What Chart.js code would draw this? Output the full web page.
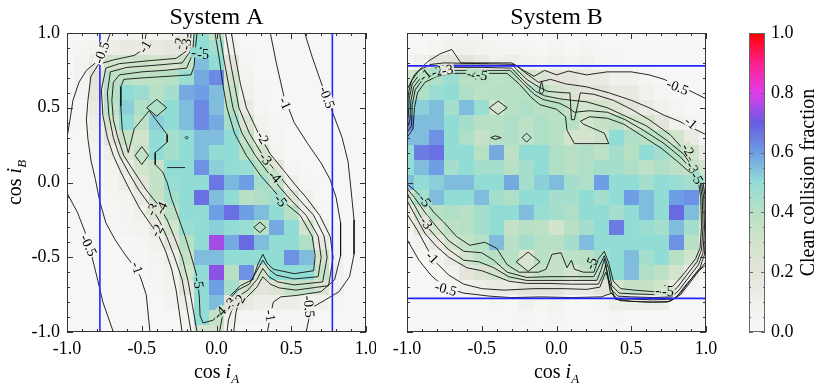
<!DOCTYPE html>
<html>
<head>
<meta charset="utf-8">
<script src="https://cdn.jsdelivr.net/npm/chart.js@4.4.1/dist/chart.umd.min.js"></script>
<style>
  body { margin: 0; background: #fff; width: 830px; height: 386px; overflow: hidden; position: relative; }
  canvas { position: absolute; top: 0; }
</style>
</head>
<body>
<canvas id="cA" width="376" height="386" style="left:0;width:376px;height:386px"></canvas>
<canvas id="cB" width="344" height="386" style="left:376px;width:344px;height:386px"></canvas>
<canvas id="cC" width="110" height="386" style="left:720px;width:110px;height:386px"></canvas>
<script>
'use strict';

// cell centres (cos i_A across, cos i_B down from the top)
var xCenters = [-1.0,-0.9,-0.8,-0.7,-0.6,-0.5,-0.4,-0.3,-0.2,-0.1,0.0,0.1,0.2,0.3,0.4,0.5,0.6,0.7,0.8,0.9,1.0];
var yCenters = [1.0,0.9,0.8,0.7,0.6,0.5,0.4,0.3,0.2,0.1,0.0,-0.1,-0.2,-0.3,-0.4,-0.5,-0.6,-0.7,-0.8,-0.9,-1.0];
var cellHalf = 0.05;

var tickLabels = [-1.0, -0.5, 0.0, 0.5, 1.0];
var barTicks = [0.0, 0.2, 0.4, 0.6, 0.8, 1.0];

// clean collision fraction, System A
var gridA = [
  [.02,.02,.03,.05,.08,.08,.08,.1,.12,.48,.35,.05,.02,.02,.02,.02,.02,.02,.02,.02,.02],
  [.02,.05,.08,.12,.15,.15,.15,.18,.2,.5,.45,.1,.03,.02,.02,.02,.02,.02,.02,.02,.02],
  [.02,.08,.15,.3,.3,.32,.3,.28,.35,.55,.5,.2,.05,.02,.02,.02,.02,.02,.02,.02,.02],
  [.02,.08,.2,.38,.38,.36,.38,.4,.48,.58,.63,.3,.08,.03,.02,.02,.02,.02,.02,.02,.02],
  [.02,.06,.18,.4,.5,.47,.4,.45,.58,.6,.55,.35,.1,.04,.02,.02,.02,.02,.02,.02,.02],
  [.02,.04,.15,.38,.52,.42,.42,.5,.55,.63,.55,.4,.15,.05,.02,.02,.02,.02,.02,.02,.02],
  [.02,.04,.12,.3,.5,.38,.52,.5,.55,.63,.58,.45,.25,.08,.04,.02,.02,.02,.02,.02,.02],
  [.02,.03,.1,.2,.35,.3,.5,.45,.5,.55,.55,.5,.35,.12,.05,.02,.02,.02,.02,.02,.02],
  [.02,.03,.06,.12,.25,.35,.5,.45,.5,.55,.5,.5,.4,.3,.08,.03,.02,.02,.02,.02,.02],
  [.02,.02,.04,.08,.15,.3,.35,.5,.5,.62,.52,.5,.48,.4,.2,.05,.02,.02,.02,.02,.02],
  [.02,.02,.03,.06,.12,.22,.35,.48,.5,.5,.66,.56,.6,.45,.35,.12,.04,.02,.02,.02,.02],
  [.02,.02,.02,.05,.08,.15,.35,.45,.5,.67,.55,.5,.4,.42,.45,.25,.1,.03,.02,.02,.02],
  [.02,.02,.02,.04,.06,.1,.25,.38,.5,.5,.6,.67,.6,.55,.5,.4,.15,.04,.02,.02,.02],
  [.02,.02,.02,.02,.05,.08,.15,.3,.48,.5,.52,.5,.48,.4,.58,.5,.3,.1,.03,.02,.02],
  [.02,.02,.02,.02,.02,.05,.1,.2,.4,.5,.75,.58,.68,.55,.5,.5,.42,.15,.04,.02,.02],
  [.02,.02,.02,.02,.02,.04,.06,.12,.35,.55,.55,.5,.5,.5,.5,.62,.55,.3,.08,.02,.02],
  [.02,.02,.02,.02,.02,.02,.05,.1,.3,.5,.73,.4,.62,.3,.5,.5,.5,.35,.1,.02,.02],
  [.02,.02,.02,.02,.02,.02,.04,.08,.2,.5,.6,.45,.3,.2,.25,.35,.35,.25,.1,.02,.02],
  [.02,.02,.02,.02,.02,.02,.02,.06,.12,.5,.55,.2,.15,.12,.12,.12,.1,.1,.05,.02,.02],
  [.02,.02,.02,.02,.02,.02,.02,.02,.08,.5,.35,.1,.05,.05,.04,.04,.02,.02,.02,.02,.02],
  [.02,.02,.02,.02,.02,.02,.02,.02,.05,.3,.3,.06,.02,.02,.02,.02,.02,.02,.02,.02,.02]
];

// clean collision fraction, System B
var gridB = [
  [.02,.02,.03,.05,.06,.05,.03,.03,.03,.03,.03,.03,.03,.02,.02,.02,.02,.02,.02,.02,.02],
  [.02,.03,.05,.1,.1,.08,.05,.05,.05,.03,.05,.03,.05,.03,.02,.02,.02,.02,.02,.02,.02],
  [.05,.1,.2,.2,.2,.15,.1,.12,.1,.08,.1,.08,.1,.05,.05,.03,.02,.02,.02,.02,.02],
  [.3,.4,.42,.48,.4,.4,.38,.4,.3,.25,.2,.2,.15,.15,.1,.1,.05,.03,.02,.02,.02],
  [.38,.42,.48,.5,.42,.38,.4,.4,.4,.38,.3,.25,.2,.2,.15,.15,.1,.05,.03,.02,.02],
  [.5,.52,.55,.45,.55,.48,.3,.4,.42,.4,.4,.35,.3,.3,.25,.2,.15,.1,.05,.03,.02],
  [.62,.55,.55,.5,.45,.4,.4,.42,.38,.42,.4,.4,.3,.35,.38,.3,.3,.2,.1,.05,.03],
  [.55,.55,.62,.5,.42,.35,.4,.42,.38,.42,.4,.3,.28,.32,.5,.42,.4,.38,.3,.15,.05],
  [.5,.65,.67,.5,.5,.4,.58,.38,.5,.5,.42,.4,.42,.38,.45,.4,.5,.45,.4,.3,.15],
  [.5,.55,.6,.45,.5,.45,.45,.4,.45,.5,.42,.4,.42,.45,.45,.42,.38,.42,.38,.35,.3],
  [.55,.5,.52,.55,.55,.5,.5,.58,.45,.52,.55,.45,.42,.6,.5,.5,.45,.5,.48,.45,.4],
  [.3,.45,.55,.5,.5,.55,.45,.42,.5,.5,.45,.45,.5,.45,.5,.6,.55,.5,.6,.62,.4],
  [.15,.3,.4,.42,.4,.45,.5,.5,.55,.48,.45,.42,.5,.5,.45,.5,.55,.5,.68,.55,.3],
  [.08,.2,.3,.38,.4,.45,.5,.35,.4,.38,.3,.4,.45,.5,.65,.5,.48,.45,.55,.45,.25],
  [.04,.1,.15,.3,.35,.4,.55,.4,.45,.4,.4,.45,.55,.5,.5,.5,.5,.5,.62,.4,.15],
  [.02,.04,.08,.15,.3,.38,.4,.4,.25,.4,.35,.38,.4,.45,.5,.55,.45,.5,.4,.3,.1],
  [.02,.03,.05,.1,.2,.25,.3,.35,.3,.35,.35,.3,.35,.38,.5,.55,.42,.38,.3,.15,.05],
  [.02,.02,.03,.05,.1,.12,.15,.15,.2,.2,.2,.15,.15,.2,.3,.35,.35,.3,.15,.05,.02],
  [.02,.02,.02,.02,.02,.02,.05,.02,.1,.05,.08,.02,.02,.05,.12,.12,.12,.12,.02,.02,.02],
  [.02,.02,.02,.02,.02,.02,.02,.02,.05,.02,.05,.02,.02,.02,.05,.02,.02,.02,.02,.02,.02],
  [.02,.02,.02,.02,.02,.02,.02,.02,.02,.02,.02,.02,.02,.02,.02,.02,.02,.02,.02,.02,.02]
];

// blue limit lines
var blueA = [-0.78, 0.775];   // cos i_A
var blueB = [0.78, -0.775];   // cos i_B

// contours, System A
var aHalfTopLeft = [[-0.71,1.0],[-0.75,0.89],[-0.81,0.8],[-0.87,0.75],[-0.92,0.67],[-0.96,0.55],[-0.98,0.42],[-1.0,0.3]];
var aHalfLowLeft = [[-1.0,-0.07],[-0.93,-0.2],[-0.88,-0.33],[-0.84,-0.47],[-0.8,-0.63],[-0.76,-0.8],[-0.69,-1.0]];
var aOneLeft = [[-0.47,1.0],[-0.49,0.89],[-0.55,0.85],[-0.69,0.82],[-0.79,0.79],[-0.84,0.71],[-0.86,0.55],[-0.87,0.42],[-0.86,0.29],[-0.84,0.15],[-0.81,0.02],[-0.78,-0.13],[-0.74,-0.27],[-0.68,-0.38],[-0.62,-0.47],[-0.56,-0.55],[-0.51,-0.63],[-0.47,-0.75],[-0.455,-0.9],[-0.445,-1.0]];
var aHalfRight = [[0.59,1.0],[0.64,0.84],[0.71,0.64],[0.78,0.46],[0.84,0.3],[0.88,0.14],[0.9,-0.05],[0.92,-0.25],[0.92,-0.48],[0.89,-0.63],[0.82,-0.73],[0.72,-0.79],[0.65,-0.83],[0.62,-0.9],[0.6,-1.0]];
var aOneRight = [[0.36,1.0],[0.4,0.8],[0.45,0.58],[0.52,0.4],[0.61,0.26],[0.7,0.13],[0.76,0.02],[0.8,-0.1],[0.83,-0.27],[0.83,-0.49],[0.79,-0.65],[0.7,-0.73],[0.54,-0.755],[0.43,-0.765],[0.38,-0.8],[0.36,-0.9],[0.34,-1.0]];
var aTwoLeft = [[-0.19,1.0],[-0.2,0.88],[-0.27,0.83],[-0.45,0.815],[-0.65,0.795],[-0.74,0.765],[-0.77,0.62],[-0.76,0.45],[-0.73,0.3],[-0.69,0.18],[-0.64,0.07],[-0.58,-0.05],[-0.51,-0.18],[-0.44,-0.28],[-0.39,-0.35],[-0.34,-0.46],[-0.3,-0.58],[-0.27,-0.72],[-0.25,-0.86],[-0.23,-1.0]];
var aThreeLeft = [[-0.17,1.0],[-0.18,0.87],[-0.23,0.8],[-0.4,0.785],[-0.6,0.77],[-0.71,0.74],[-0.73,0.6],[-0.72,0.45],[-0.69,0.3],[-0.65,0.18],[-0.59,0.07],[-0.52,-0.05],[-0.44,-0.16],[-0.38,-0.26],[-0.33,-0.37],[-0.28,-0.5],[-0.23,-0.65],[-0.2,-0.82],[-0.17,-1.0]];
var aFourLeft = [[-0.15,1.0],[-0.16,0.86],[-0.2,0.765],[-0.35,0.75],[-0.5,0.74],[-0.65,0.72],[-0.69,0.67],[-0.7,0.55],[-0.69,0.42],[-0.66,0.3],[-0.62,0.18],[-0.55,0.07],[-0.47,-0.05],[-0.39,-0.15],[-0.33,-0.25],[-0.28,-0.37],[-0.23,-0.5],[-0.19,-0.66],[-0.16,-0.83],[-0.13,-1.0]];
var aFive = [[-0.13,1.0],[-0.14,0.91],[-0.15,0.78],[-0.17,0.72],[-0.33,0.71],[-0.49,0.7],[-0.62,0.69],[-0.64,0.64],[-0.64,0.51],[-0.63,0.35],[-0.59,0.2],[-0.55,0.36],[-0.45,0.48],[-0.33,0.32],[-0.33,0.27],[-0.41,0.2],[-0.41,0.12],[-0.36,0.07],[-0.33,0.0],[-0.3,-0.11],[-0.26,-0.22],[-0.21,-0.36],[-0.17,-0.49],[-0.13,-0.63],[-0.115,-0.76],[-0.11,-0.89],[-0.09,-0.94],[-0.02,-0.92],[0.03,-0.85],[0.09,-0.76],[0.16,-0.69],[0.24,-0.65],[0.28,-0.54],[0.31,-0.48],[0.34,-0.54],[0.38,-0.58],[0.52,-0.61],[0.65,-0.59],[0.66,-0.49],[0.64,-0.36],[0.56,-0.22],[0.45,-0.13],[0.38,-0.05],[0.3,0.04],[0.2,0.18],[0.12,0.33],[0.07,0.5],[0.04,0.67],[0.02,0.82],[-0.01,1.0]];
var aFourRight = [[0.02,1.0],[0.05,0.82],[0.08,0.66],[0.11,0.5],[0.17,0.33],[0.26,0.18],[0.35,0.06],[0.43,-0.04],[0.5,-0.12],[0.6,-0.22],[0.68,-0.36],[0.7,-0.5],[0.68,-0.63],[0.52,-0.645],[0.4,-0.62],[0.35,-0.58],[0.31,-0.52],[0.27,-0.59],[0.22,-0.68],[0.14,-0.72],[0.08,-0.79],[0.04,-0.89],[0.02,-1.0]];
var aThreeRight = [[0.06,1.0],[0.09,0.82],[0.12,0.66],[0.15,0.5],[0.22,0.33],[0.31,0.18],[0.4,0.07],[0.48,-0.03],[0.55,-0.11],[0.65,-0.22],[0.72,-0.36],[0.74,-0.5],[0.71,-0.665],[0.52,-0.685],[0.41,-0.665],[0.35,-0.63],[0.31,-0.575],[0.27,-0.65],[0.21,-0.72],[0.15,-0.76],[0.11,-0.83],[0.08,-0.92],[0.07,-1.0]];
var aTwoRight = [[0.1,1.0],[0.13,0.82],[0.16,0.66],[0.2,0.5],[0.28,0.33],[0.36,0.19],[0.45,0.08],[0.53,-0.02],[0.6,-0.1],[0.69,-0.22],[0.76,-0.36],[0.78,-0.5],[0.75,-0.69],[0.53,-0.72],[0.42,-0.705],[0.36,-0.68],[0.31,-0.63],[0.27,-0.7],[0.2,-0.77],[0.15,-0.8],[0.13,-0.87],[0.115,-1.0]];
var aDiamond1 = [[-0.467,0.5],[-0.4,0.556],[-0.333,0.5],[-0.4,0.444],[-0.467,0.5]];
var aDiamond2 = [[-0.545,0.18],[-0.5,0.24],[-0.455,0.18],[-0.5,0.12],[-0.545,0.18]];
var aDiamond3 = [[0.25,-0.3],[0.29,-0.265],[0.33,-0.3],[0.29,-0.335],[0.25,-0.3]];
var aDot = [[-0.21,0.3],[-0.2,0.31],[-0.19,0.3],[-0.2,0.29],[-0.21,0.3]];
var aStub = [[-0.33,0.1],[-0.21,0.1]];

// contours, System B
var bHalfTop = [[-1.0,0.62],[-0.95,0.72],[-0.86,0.81],[-0.78,0.86],[-0.7,0.89],[-0.64,0.8],[-0.45,0.8],[-0.3,0.8],[-0.22,0.75],[-0.15,0.71],[-0.08,0.75],[0.0,0.72],[0.08,0.745],[0.2,0.72],[0.34,0.74],[0.5,0.74],[0.62,0.72],[0.72,0.69],[0.8,0.65],[0.9,0.61],[1.0,0.56]];
var bHalfLow = [[-1.0,-0.38],[-0.92,-0.52],[-0.84,-0.62],[-0.75,-0.7],[-0.62,-0.74],[-0.45,-0.76],[-0.3,-0.77],[-0.1,-0.765],[0.1,-0.77],[0.3,-0.765],[0.37,-0.74],[0.42,-0.79],[0.6,-0.8],[0.74,-0.8],[0.8,-0.77],[0.87,-0.68],[0.94,-0.6],[1.0,-0.55]];
var bOneTop = [[-1.0,0.47],[-0.99,0.6],[-0.97,0.68],[-0.92,0.75],[-0.84,0.79],[-0.75,0.8],[-0.5,0.795],[-0.28,0.79],[-0.19,0.72],[-0.12,0.67],[-0.04,0.69],[0.06,0.66],[0.2,0.64],[0.35,0.6],[0.5,0.55],[0.62,0.5],[0.72,0.45],[0.82,0.41],[0.9,0.37],[1.0,0.32]];
var bOneLow = [[-1.0,-0.21],[-0.93,-0.32],[-0.86,-0.45],[-0.8,-0.54],[-0.72,-0.62],[-0.62,-0.68],[-0.5,-0.71],[-0.35,-0.72],[-0.15,-0.71],[0.05,-0.71],[0.2,-0.715],[0.29,-0.7],[0.33,-0.6],[0.36,-0.68],[0.39,-0.78],[0.5,-0.795],[0.65,-0.8],[0.76,-0.795],[0.83,-0.75],[0.9,-0.66],[0.96,-0.58],[1.0,-0.53]];
var bTwo = [[-1.0,0.4],[-0.99,0.46],[-0.985,0.56],[-0.965,0.66],[-0.91,0.73],[-0.8,0.775],[-0.7,0.785],[-0.5,0.785],[-0.29,0.78],[-0.2,0.69],[-0.12,0.64],[-0.06,0.61],[0.05,0.6],[0.09,0.6],[0.1,0.42],[0.12,0.42],[0.16,0.6],[0.25,0.59],[0.38,0.55],[0.5,0.49],[0.62,0.42],[0.76,0.32],[0.86,0.21],[0.93,0.1],[0.98,0.0],[0.995,-0.1],[0.998,-0.3],[0.99,-0.48],[0.96,-0.57],[0.89,-0.66],[0.83,-0.74],[0.78,-0.78],[0.65,-0.785],[0.5,-0.78],[0.4,-0.78],[0.36,-0.73],[0.34,-0.62],[0.33,-0.55],[0.31,-0.62],[0.28,-0.68],[0.1,-0.68],[-0.05,-0.675],[-0.2,-0.675],[-0.32,-0.66],[-0.42,-0.62],[-0.5,-0.59],[-0.6,-0.57],[-0.72,-0.5],[-0.8,-0.43],[-0.88,-0.34],[-0.94,-0.23],[-1.0,-0.12]];
var bThree = [[-1.0,0.36],[-0.98,0.42],[-0.975,0.54],[-0.955,0.64],[-0.9,0.71],[-0.8,0.755],[-0.7,0.77],[-0.5,0.77],[-0.3,0.765],[-0.22,0.68],[-0.14,0.61],[-0.08,0.58],[0.02,0.56],[0.1,0.55],[0.2,0.54],[0.34,0.5],[0.47,0.44],[0.6,0.38],[0.74,0.28],[0.85,0.19],[0.92,0.09],[0.97,0.0],[0.985,-0.1],[0.99,-0.3],[0.98,-0.47],[0.95,-0.55],[0.88,-0.64],[0.82,-0.72],[0.77,-0.765],[0.65,-0.77],[0.5,-0.765],[0.41,-0.76],[0.36,-0.71],[0.34,-0.6],[0.32,-0.51],[0.3,-0.58],[0.27,-0.655],[0.1,-0.655],[-0.05,-0.655],[-0.2,-0.655],[-0.32,-0.63],[-0.42,-0.57],[-0.52,-0.53],[-0.62,-0.52],[-0.72,-0.45],[-0.8,-0.37],[-0.88,-0.28],[-0.94,-0.17],[-1.0,-0.07]];
var bFour = [[-1.0,0.33],[-0.97,0.38],[-0.965,0.52],[-0.945,0.62],[-0.89,0.695],[-0.8,0.735],[-0.7,0.75],[-0.5,0.75],[-0.31,0.75],[-0.23,0.67],[-0.15,0.59],[-0.09,0.555],[0.02,0.53],[0.08,0.5],[0.12,0.47],[0.22,0.48],[0.34,0.47],[0.46,0.42],[0.58,0.35],[0.72,0.26],[0.83,0.17],[0.91,0.08],[0.96,0.0],[0.975,-0.1],[0.98,-0.3],[0.97,-0.45],[0.94,-0.53],[0.87,-0.62],[0.81,-0.7],[0.76,-0.745],[0.65,-0.75],[0.52,-0.745],[0.42,-0.74],[0.37,-0.69],[0.35,-0.58],[0.32,-0.49],[0.29,-0.55],[0.25,-0.63],[0.1,-0.63],[-0.05,-0.63],[-0.2,-0.635],[-0.33,-0.6],[-0.42,-0.52],[-0.5,-0.47],[-0.62,-0.46],[-0.72,-0.39],[-0.8,-0.3],[-0.88,-0.2],[-0.95,-0.1],[-1.0,-0.04]];
var bFive = [[-1.0,0.3],[-0.96,0.36],[-0.95,0.5],[-0.93,0.6],[-0.88,0.67],[-0.8,0.71],[-0.7,0.73],[-0.5,0.73],[-0.33,0.73],[-0.25,0.66],[-0.17,0.57],[-0.11,0.52],[0.0,0.49],[0.06,0.44],[0.07,0.35],[0.12,0.26],[0.25,0.26],[0.35,0.26],[0.32,0.33],[0.18,0.39],[0.16,0.41],[0.22,0.44],[0.34,0.43],[0.45,0.39],[0.56,0.32],[0.7,0.23],[0.81,0.14],[0.9,0.06],[0.95,0.0],[0.965,-0.1],[0.97,-0.3],[0.96,-0.44],[0.93,-0.51],[0.86,-0.6],[0.8,-0.67],[0.75,-0.72],[0.65,-0.73],[0.52,-0.72],[0.43,-0.71],[0.38,-0.66],[0.35,-0.54],[0.32,-0.46],[0.28,-0.51],[0.25,-0.6],[0.18,-0.6],[0.12,-0.58],[0.1,-0.52],[0.07,-0.57],[0.03,-0.47],[-0.03,-0.48],[-0.07,-0.58],[-0.12,-0.6],[-0.25,-0.6],[-0.33,-0.55],[-0.4,-0.44],[-0.48,-0.4],[-0.58,-0.42],[-0.67,-0.36],[-0.75,-0.27],[-0.82,-0.2],[-0.89,-0.11],[-0.95,-0.05],[-1.0,-0.01]];
var bDiamond1 = [[-0.45,0.5],[-0.39,0.545],[-0.33,0.5],[-0.39,0.455],[-0.45,0.5]];
var bLens = [[-0.44,0.3],[-0.41,0.312],[-0.37,0.3],[-0.41,0.288],[-0.44,0.3]];
var bDiamond2 = [[-0.23,0.3],[-0.2,0.33],[-0.17,0.3],[-0.2,0.27],[-0.23,0.3]];
var bDrop = [[-0.1,0.68],[-0.085,0.61],[-0.1,0.59],[-0.115,0.61],[-0.1,0.68]];
var bDiamond3 = [[-0.27,-0.53],[-0.19,-0.465],[-0.11,-0.53],[-0.19,-0.595],[-0.27,-0.53]];

var contoursA = [aHalfTopLeft, aHalfLowLeft, aOneLeft, aHalfRight, aOneRight, aTwoLeft, aThreeLeft, aFourLeft, aFive,
  aFourRight, aThreeRight, aTwoRight, aDiamond1, aDiamond2, aDiamond3, aDot, aStub];
var contoursB = [bHalfTop, bHalfLow, bOneTop, bOneLow, bTwo, bThree, bFour, bFive, bDiamond1, bLens, bDiamond2, bDrop, bDiamond3];

// contour labels: text, cos i_A, cos i_B, angle
var labelsA = [
  ['-0.5',-0.77,0.87,-70], ['-1',-0.48,0.91,-60], ['-2',-0.25,0.93,-80], ['-3',-0.205,0.925,-80],
  ['-4',-0.13,0.87,0], ['-5',-0.09,0.86,0],
  ['-0.5',0.74,0.57,70], ['-1',0.46,0.53,65], ['-2',0.31,0.3,60], ['-3',0.33,0.16,50],
  ['-4',0.39,0.04,45], ['-5',0.43,-0.12,50],
  ['-3',-0.43,-0.18,-65], ['-4',-0.37,-0.17,-65], ['-2',-0.4,-0.32,-60],
  ['-0.5',-0.855,-0.42,65], ['-1',-0.53,-0.57,70], ['-5',-0.12,-0.67,80],
  ['-4',0.02,-0.87,-45], ['-3',0.09,-0.81,-60], ['-2',0.15,-0.79,-60],
  ['-1',0.36,-0.89,80], ['-0.5',0.62,-0.83,85]
];
var labelsB = [
  ['-1',-0.88,0.72,-40], ['-2',-0.8,0.745,-20], ['-3',-0.73,0.755,-10],
  ['-4',-0.56,0.725,10], ['-5',-0.5,0.72,10],
  ['-0.5',0.81,0.64,22], ['-1',0.9,0.4,40], ['-2',0.88,0.22,60], ['-3',0.91,0.1,60], ['-5',0.94,0.03,60],
  ['-5',-0.88,-0.12,55], ['-3',-0.87,-0.27,55], ['-1',-0.83,-0.5,45], ['-0.5',-0.74,-0.71,15],
  ['-5',0.23,-0.54,-70], ['-4',0.7,-0.72,0], ['-5',0.745,-0.725,0]
];

// colour map: value -> rgb
var cmapStops = [0.0, 0.1, 0.2, 0.3, 0.4, 0.5, 0.6, 0.7, 0.8, 0.9, 1.0];
var cmapRGB = [[248,248,248],[240,240,236],[228,228,218],[210,228,204],[184,224,196],[146,220,214],
  [110,158,228],[104,92,226],[226,60,236],[255,32,140],[255,0,0]];

function colour(v) {
  var k = 1;
  while (k < cmapStops.length - 1 && v > cmapStops[k]) k++;
  var t = Math.max(0, Math.min(1, (v - cmapStops[k-1]) / (cmapStops[k] - cmapStops[k-1])));
  var a = cmapRGB[k-1], b = cmapRGB[k];
  return 'rgb(' + [0,1,2].map((c) => Math.round(a[c] + (b[c] - a[c]) * t)).join(',') + ')';
}

var serif = "'Liberation Serif', 'Times New Roman', serif";
Chart.defaults.font.family = serif;
Chart.defaults.font.size = 18;
Chart.defaults.color = '#000';

var heatmap = {
  id: 'heatmap',
  beforeDatasetsDraw(chart, args, opts) {
    var ctx = chart.ctx, a = chart.chartArea, x = chart.scales.x, y = chart.scales.y;
    ctx.save();
    ctx.beginPath();
    ctx.rect(a.left, a.top, a.width, a.height);
    ctx.clip();
    opts.grid.forEach((row, j) => row.forEach((v, i) => {
      var x0 = Math.round(x.getPixelForValue(xCenters[i] - cellHalf));
      var x1 = Math.round(x.getPixelForValue(xCenters[i] + cellHalf));
      var y0 = Math.round(y.getPixelForValue(yCenters[j] + cellHalf));
      var y1 = Math.round(y.getPixelForValue(yCenters[j] - cellHalf));
      ctx.fillStyle = colour(v);
      ctx.fillRect(x0, y0, x1 - x0, y1 - y0);
    }));
    ctx.restore();
  }
};

var clabels = {
  id: 'clabels',
  afterDatasetsDraw(chart, args, opts) {
    var ctx = chart.ctx, x = chart.scales.x, y = chart.scales.y;
    ctx.save();
    ctx.font = '14px ' + serif;
    ctx.textAlign = 'center';
    ctx.textBaseline = 'middle';
    opts.labels.forEach((l) => {
      var i = Math.max(0, Math.min(20, Math.round((l[1] + 1) / 0.1)));
      var j = Math.max(0, Math.min(20, Math.round((1 - l[2]) / 0.1)));
      var w = ctx.measureText(l[0]).width;
      ctx.save();
      ctx.translate(x.getPixelForValue(l[1]), y.getPixelForValue(l[2]));
      ctx.rotate(l[3] * Math.PI / 180);
      ctx.fillStyle = colour(opts.grid[j][i]);
      ctx.fillRect(-w / 2 - 1, -5, w + 2, 10);
      ctx.fillStyle = '#000';
      ctx.fillText(l[0], 0, 1);
      ctx.restore();
    });
    ctx.restore();
  }
};

function drawCosLabel(ctx, sub) {
  ctx.font = '20px ' + serif;
  var w1 = ctx.measureText('cos ').width;
  ctx.font = 'italic 20px ' + serif;
  var w2 = ctx.measureText('i').width;
  ctx.font = 'italic 13px ' + serif;
  var w3 = ctx.measureText(sub).width;
  var s = -(w1 + w2 + w3) / 2;
  ctx.textAlign = 'left';
  ctx.textBaseline = 'alphabetic';
  ctx.font = '20px ' + serif;
  ctx.fillText('cos ', s, 0);
  ctx.font = 'italic 20px ' + serif;
  ctx.fillText('i', s + w1, 0);
  ctx.font = 'italic 13px ' + serif;
  ctx.fillText(sub, s + w1 + w2, 5);
}

var frame = {
  id: 'frame',
  afterDraw(chart, args, opts) {
    var ctx = chart.ctx, a = chart.chartArea, x = chart.scales.x, y = chart.scales.y;
    ctx.save();
    ctx.strokeStyle = '#333';
    ctx.lineWidth = 1;
    ctx.beginPath();
    for (var k = -10; k <= 10; k++) {
      var v = k / 10, len = (k % 5 === 0) ? 6 : 3;
      var px = Math.round(x.getPixelForValue(v)) + 0.5;
      var py = Math.round(y.getPixelForValue(v)) + 0.5;
      ctx.moveTo(px, a.bottom); ctx.lineTo(px, a.bottom - len);
      ctx.moveTo(px, a.top); ctx.lineTo(px, a.top + len);
      ctx.moveTo(a.left, py); ctx.lineTo(a.left + len, py);
      ctx.moveTo(a.right, py); ctx.lineTo(a.right - len, py);
    }
    ctx.stroke();
    ctx.strokeRect(a.left + 0.5, a.top + 0.5, a.width - 1, a.height - 1);
    ctx.fillStyle = '#000';
    ctx.font = '24px ' + serif;
    ctx.textAlign = 'center';
    ctx.fillText(opts.title, (a.left + a.right) / 2, 24);
    ctx.save();
    ctx.translate((a.left + a.right) / 2, 378);
    drawCosLabel(ctx, 'A');
    ctx.restore();
    if (opts.yTitle) {
      ctx.save();
      ctx.translate(21, (a.top + a.bottom) / 2);
      ctx.rotate(-Math.PI / 2);
      drawCosLabel(ctx, 'B');
      ctx.restore();
    }
    ctx.restore();
  }
};

function lineSets(list) {
  return list.map((pts) => ({
    data: pts.map((p) => ({x: p[0], y: p[1]})),
    showLine: true, borderColor: '#111', borderWidth: 0.9,
    pointRadius: 0, pointHoverRadius: 0, tension: 0
  }));
}

function blueSets(vals, vertical) {
  return vals.map((v) => ({
    data: vertical ? [{x: v, y: -1}, {x: v, y: 1}] : [{x: -1, y: v}, {x: 1, y: v}],
    showLine: true, borderColor: '#2424ff', borderWidth: 1.6,
    pointRadius: 0, pointHoverRadius: 0
  }));
}

function panel(id, grid, contours, labels, blue, vertical, title, left, right) {
  return new Chart(document.getElementById(id), {
    type: 'scatter',
    data: { datasets: blueSets(blue, vertical).concat(lineSets(contours)) },
    options: {
      responsive: false, animation: false, events: [], devicePixelRatio: 1,
      layout: { padding: { top: 33, right: right, left: 0, bottom: 0 } },
      plugins: {
        legend: { display: false }, tooltip: { enabled: false },
        heatmap: { grid: grid },
        clabels: { grid: grid, labels: labels },
        frame: { title: title, yTitle: left > 40 }
      },
      scales: {
        x: {
          type: 'linear', min: -1, max: 1,
          afterBuildTicks: (s) => { s.ticks = tickLabels.map((v) => ({value: v})); },
          afterFit: (s) => { s.height = 54; s.paddingLeft = 0; s.paddingRight = 0; },
          grid: { display: false, drawTicks: false }, border: { display: false },
          ticks: { padding: 6, callback: (v) => v.toFixed(1), maxRotation: 0 }
        },
        y: {
          type: 'linear', min: -1, max: 1,
          afterBuildTicks: (s) => { s.ticks = tickLabels.map((v) => ({value: v})); },
          afterFit: (s) => { s.width = left; s.paddingTop = 0; s.paddingBottom = 0; },
          grid: { display: false, drawTicks: false }, border: { display: false },
          ticks: { display: left > 40, padding: 7, callback: (v) => v.toFixed(1) }
        }
      }
    },
    plugins: [heatmap, clabels, frame]
  });
}

panel('cA', gridA, contoursA, labelsA, blueA, true, 'System A', 67, 10);
panel('cB', gridB, contoursB, labelsB, blueB, false, 'System B', 31, 14);

// colour bar
var colourBar = {
  id: 'colourBar',
  beforeDatasetsDraw(chart) {
    var ctx = chart.ctx, a = chart.chartArea;
    var g = ctx.createLinearGradient(0, a.bottom, 0, a.top);
    cmapStops.forEach((v) => { g.addColorStop(v, colour(v)); });
    ctx.fillStyle = g;
    ctx.fillRect(a.left, a.top, a.width, a.height);
  },
  afterDraw(chart) {
    var ctx = chart.ctx, a = chart.chartArea, y = chart.scales.y;
    ctx.save();
    ctx.strokeStyle = '#666';
    ctx.lineWidth = 1;
    ctx.beginPath();
    for (var k = 0; k <= 20; k++) {
      var py = Math.round(y.getPixelForValue(k / 20)) + 0.5, len = (k % 4 === 0) ? 4 : 2;
      ctx.moveTo(a.left, py); ctx.lineTo(a.left + len, py);
      ctx.moveTo(a.right, py); ctx.lineTo(a.right - len, py);
    }
    ctx.stroke();
    ctx.strokeRect(a.left + 0.5, a.top + 0.5, a.width - 1, a.height - 1);
    ctx.fillStyle = '#000';
    ctx.font = '20px ' + serif;
    ctx.textAlign = 'center';
    ctx.textBaseline = 'alphabetic';
    ctx.translate(94, (a.top + a.bottom) / 2);
    ctx.rotate(-Math.PI / 2);
    ctx.fillText('Clean collision fraction', 0, 0);
    ctx.restore();
  }
};

new Chart(document.getElementById('cC'), {
  type: 'scatter',
  data: { datasets: [] },
  options: {
    responsive: false, animation: false, events: [], devicePixelRatio: 1,
    layout: { padding: { top: 33, bottom: 54, left: 29, right: 0 } },
    plugins: { legend: { display: false }, tooltip: { enabled: false } },
    scales: {
      x: { type: 'linear', display: false, min: 0, max: 1 },
      y: {
        type: 'linear', position: 'right', min: 0, max: 1,
        afterBuildTicks: (s) => { s.ticks = barTicks.map((v) => ({value: v})); },
        afterFit: (s) => { s.width = 65; s.paddingTop = 0; s.paddingBottom = 0; },
        grid: { display: false, drawTicks: false }, border: { display: false },
        ticks: { padding: 6, callback: (v) => v.toFixed(1) }
      }
    }
  },
  plugins: [colourBar]
});
</script>
</body>
</html>
